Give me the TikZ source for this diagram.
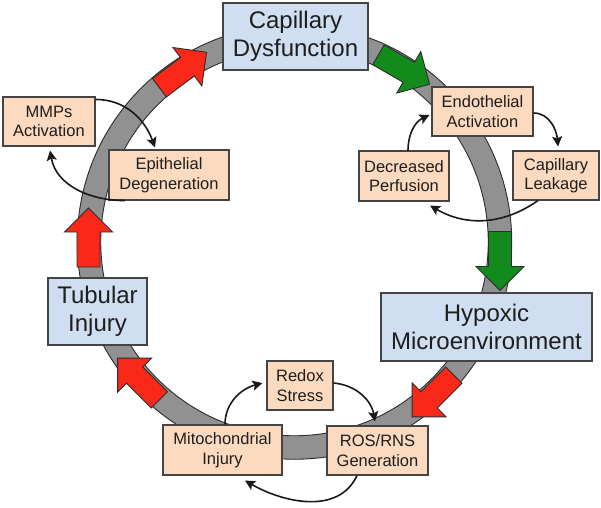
\documentclass[tikz,border=0pt]{standalone}
\usepackage{fontspec}
\setmainfont{Liberation Sans}
\usetikzlibrary{arrows.meta}
\definecolor{bluefill}{RGB}{207,222,240}
\definecolor{peach}{RGB}{251,218,191}
\definecolor{boxline}{RGB}{68,68,68}
\definecolor{txt}{RGB}{30,30,30}
\definecolor{ringgray}{RGB}{145,145,145}
\definecolor{ringline}{RGB}{45,45,45}
\definecolor{arrred}{RGB}{250,40,25}
\definecolor{arrgreen}{RGB}{18,138,28}
\tikzset{
  bigbox/.style={draw=boxline, fill=bluefill, line width=1.1pt, inner sep=0pt, align=center, text=txt,
    font=\fontsize{24}{28}\selectfont},
  smallbox/.style={draw=boxline, fill=peach, line width=1.1pt, inner sep=0pt, align=center, text=txt,
    font=\fontsize{16.5}{19.5}\selectfont},
  cyc/.style={line width=1.6pt, draw=black!90, -{Stealth[length=10pt,width=10pt,inset=2pt]}},
  bigarrow/.style={draw=ringline, line width=0.9pt},
  blockarrow/.pic={\path[pic actions] (-29.5,-11.5) -- (5.5,-11.5) -- (5.5,-24) -- (29.5,0) -- (5.5,24) -- (5.5,11.5) -- (-29.5,11.5) -- cycle;}
}
\begin{document}
\begin{tikzpicture}[x=1pt,y=1pt]
\path[use as bounding box] (0,0) rectangle (601,-507);
% ring
\fill[ringgray, even odd rule] (294.5,-242) circle[radius=217.25pt] (294.5,-242) circle[radius=193.75pt];
\draw[ringline, line width=0.9pt] (294.5,-242) circle[radius=217.25pt];
\draw[ringline, line width=0.9pt] (294.5,-242) circle[radius=193.75pt];
% block arrows
\pic[bigarrow, fill=arrred, rotate=37] at (183,-70) {blockarrow};
\pic[bigarrow, fill=arrgreen, rotate=-30] at (404,-69.5) {blockarrow};
\pic[bigarrow, fill=arrgreen, rotate=-90] at (500,-261) {blockarrow};
\pic[bigarrow, fill=arrred, rotate=225] at (433,-396) {blockarrow};
\pic[bigarrow, fill=arrred, rotate=135] at (138.5,-379) {blockarrow};
\pic[bigarrow, fill=arrred, rotate=90] at (88.5,-237.5) {blockarrow};
% boxes
\node[bigbox, minimum width=145pt, minimum height=67pt] (cap) at (295.5,-36.5) {Capillary\\Dysfunction};
\node[bigbox, minimum width=211pt, minimum height=68pt] (hyp) at (486.5,-327) {Hypoxic\\Microenvironment};
\node[bigbox, minimum width=99pt, minimum height=67pt] (tub) at (97.5,-311.5) {Tubular\\Injury};
\node[smallbox, minimum width=92pt, minimum height=49pt] (mmp) at (49,-121.5) {MMPs\\Activation};
\node[smallbox, minimum width=120pt, minimum height=50pt] (epi) at (169,-175) {Epithelial\\Degeneration};
\node[smallbox, minimum width=101pt, minimum height=49pt] (endo) at (482.5,-111.5) {Endothelial\\Activation};
\node[smallbox, minimum width=90pt, minimum height=50pt] (dec) at (404,-176) {Decreased\\Perfusion};
\node[smallbox, minimum width=86pt, minimum height=49pt] (leak) at (556,-175.5) {Capillary\\Leakage};
\node[smallbox, minimum width=66pt, minimum height=49pt] (redox) at (300,-385.5) {Redox\\Stress};
\node[smallbox, minimum width=119pt, minimum height=50pt] (mito) at (222.5,-450) {Mitochondrial\\Injury};
\node[smallbox, minimum width=101pt, minimum height=49pt] (ros) at (377.5,-450.5) {ROS/RNS\\Generation};
% small cycle arrows
\draw[cyc] ([yshift=-3pt]mmp.north east) to[out=0,in=110] ([xshift=-14pt,yshift=2pt]epi.north);
\draw[cyc] ([xshift=-44pt]epi.south) to[out=180,in=-80] ([xshift=1pt,yshift=-4pt]mmp.south);
\draw[cyc] ([yshift=-1.5pt]endo.east) to[out=0,in=95] ([xshift=2pt,yshift=4pt]leak.north);
\draw[cyc] ([xshift=-18pt]leak.south) to[out=-145,in=-30] ([xshift=26pt,yshift=-4pt]dec.south);
\draw[cyc] ([xshift=4pt]dec.north) to[out=90,in=205] ([xshift=-2pt,yshift=-3.5pt]endo.west);
\draw[cyc] ([xshift=2.5pt]mito.north) to[out=90,in=195] ([xshift=-4pt,yshift=2.5pt]redox.west);
\draw[cyc] ([yshift=2.5pt]redox.east) to[out=-5,in=100] ([xshift=-2.5pt,yshift=4pt]ros.north);
\draw[cyc] ([xshift=-20.5pt]ros.south) to[out=-115,in=-30] ([xshift=22.5pt,yshift=-5pt]mito.south);
\end{tikzpicture}
\end{document}
